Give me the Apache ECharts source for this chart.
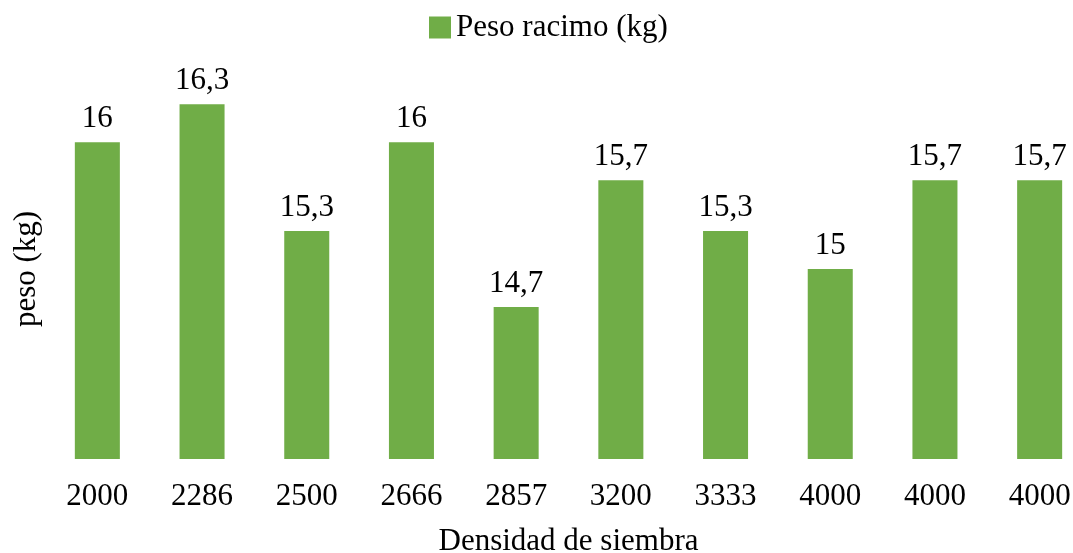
<!DOCTYPE html>
<html>
<head>
<meta charset="utf-8">
<script src="https://cdn.jsdelivr.net/npm/echarts@6/dist/echarts.min.js"></script>
<style>
  html, body { margin: 0; padding: 0; background: #fff; }
  #chart { width: 1073px; height: 553px; }
</style>
</head>
<body>
<div id="chart"></div>
<script>
// Planting density (plants/ha) and bunch weight
const densidades = ['2000', '2286', '2500', '2666', '2857', '3200', '3333', '4000', '4000', '4000'];
const pesoRacimo = [16, 16.3, 15.3, 16, 14.7, 15.7, 15.3, 15, 15.7, 15.7];

const FONT = '"Liberation Serif", "Times New Roman", serif';
const FS = 31;
const chart = echarts.init(document.getElementById('chart'), null, { renderer: 'canvas' });

chart.setOption({
  animation: false,
  textStyle: { fontFamily: FONT, color: '#000' },
  legend: {
    top: 7,
    left: 424,
    icon: 'rect',
    itemWidth: 22,
    itemHeight: 22,
    itemGap: 4,
    textStyle: { fontFamily: FONT, fontSize: FS, color: '#000' },
    data: ['Peso racimo (kg)']
  },
  grid: { left: 45, right: -19, top: 79, bottom: 94, containLabel: false, outerBoundsMode: 'none' },
  xAxis: {
    type: 'category',
    data: densidades.map((d, i) => ({ value: i + ':' + d })),
    axisLine: { show: false },
    axisTick: { show: false },
    axisLabel: {
      fontFamily: FONT, fontSize: FS, color: '#000', margin: 22,
      formatter: v => v.split(':')[1]
    },
    name: 'Densidad de siembra',
    nameLocation: 'middle',
    nameGap: 67,
    nameTextStyle: { fontFamily: FONT, fontSize: FS, color: '#000' }
  },
  yAxis: {
    type: 'value',
    min: 13.5,
    max: 16.5,
    axisLine: { show: false },
    axisTick: { show: false },
    axisLabel: { show: false },
    splitLine: { show: false },
    name: 'peso (kg)',
    nameLocation: 'middle',
    nameGap: 3,
    nameRotate: 90,
    nameTextStyle: { fontFamily: FONT, fontSize: FS, color: '#000' }
  },
  series: [{
    name: 'Peso racimo (kg)',
    type: 'bar',
    data: pesoRacimo,
    barWidth: '43%',
    itemStyle: { color: '#70AD47' },
    label: {
      show: true,
      position: 'top',
      distance: 8,
      fontFamily: FONT,
      fontSize: FS,
      color: '#000',
      formatter: p => String(p.value).replace('.', ',')
    }
  }]
});
</script>
</body>
</html>
